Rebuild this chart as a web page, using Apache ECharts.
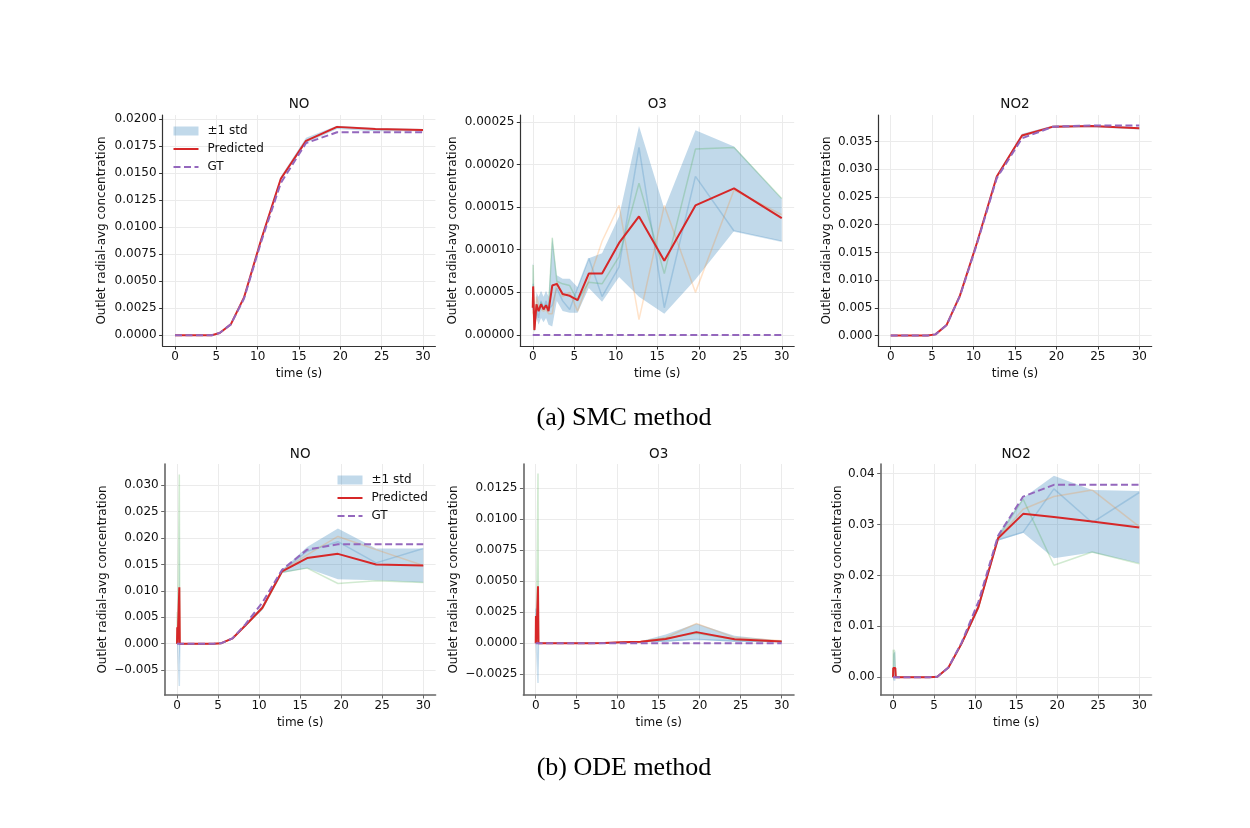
<!DOCTYPE html>
<html><head><meta charset="utf-8">
<script src="https://cdn.jsdelivr.net/npm/echarts@6/dist/echarts.min.js"></script>
<style>html,body{margin:0;padding:0;background:#fff}#c{width:1250px;height:828px}</style>
</head><body><div id="c"></div>
<script>
// ---------- data ----------
const xTicks = [0, 5, 10, 15, 20, 25, 30];

const tSMC = [0, 0.05, 0.2, 0.45, 0.7, 1.0, 1.3, 1.6, 1.9, 2.35, 2.9, 3.6, 4.45, 5.4, 6.75, 8.35, 10.4, 12.8, 15.85, 19.6, 24.25, 30];
const tODE = [0, 0.03, 0.07, 0.16, 0.22, 0.28, 0.34, 0.45, 0.7, 1.0, 1.3, 1.6, 1.9, 2.35, 2.9, 3.6, 4.45, 5.4, 6.75, 8.35, 10.4, 12.8, 15.85, 19.6, 24.25, 30];

// SMC NO
const smcNoPred = [0,0,0,0,0,0,0,0,0,0,0,0,0, 0.0002, 0.001, 0.0035, 0.0088, 0.0145, 0.018, 0.0193, 0.0191, 0.019];
const smcNoGT   = [0,0,0,0,0,0,0,0,0,0,0,0,0, 0.0002, 0.001, 0.0034, 0.0086, 0.0141, 0.0178, 0.0188, 0.0188, 0.0188];
const smcNoLo   = [0,0,0,0,0,0,0,0,0,0,0,0,0, 0.0002, 0.00095, 0.0034, 0.0086, 0.0143, 0.0178, 0.0191, 0.0189, 0.0189];
const smcNoHi   = [0,0,0,0,0,0,0,0,0,0,0,0,0, 0.0002, 0.00105, 0.0036, 0.009, 0.0147, 0.0183, 0.0194, 0.0192, 0.0191];

// SMC O3
const smcO3Pred = [0.000032, 0.000057, 0.000006, 0.000036, 0.000028, 0.000036, 0.00003, 0.000035, 0.000028, 0.000058, 0.00006, 0.000048, 0.000046, 0.000041, 0.000072, 0.000072, 0.000108, 0.000139, 0.000087, 0.000152, 0.000172, 0.000137];
const smcO3GT   = [0,0,0,0,0,0,0,0,0,0,0,0,0,0,0,0,0,0,0,0,0,0];
const smcO3Lo   = [0.00002, 0.00003, 0.000003, 0.00002, 0.000012, 0.00002, 0.000015, 0.00002, 0.000012, 0.00001, 0.00004, 0.000028, 0.000026, 0.000026, 0.000055, 0.000039, 0.000068, 0.000045, 0.000025, 0.000065, 0.000122, 0.00011];
const smcO3Hi   = [0.000083, 0.000084, 0.00001, 0.00005, 0.000045, 0.000052, 0.000045, 0.000052, 0.000045, 0.000115, 0.00007, 0.000066, 0.000066, 0.000056, 0.00009, 0.000096, 0.000139, 0.000245, 0.000148, 0.00024, 0.000221, 0.00016];
const smcO3SampleBlue   = [0.00003, 0.00006, 0.000005, 0.00003, 0.00002, 0.00004, 0.00003, 0.00004, 0.00003, 0.000035, 0.000055, 0.00004, 0.00003, 0.000055, 0.00009, 0.000045, 0.00008, 0.00022, 0.000032, 0.000186, 0.000122, 0.00011];
const smcO3SampleOrange = [0.000025, 0.00003, 0.000005, 0.000045, 0.000035, 0.00003, 0.000028, 0.00003, 0.000025, 0.000025, 0.000062, 0.000045, 0.00005, 0.000028, 0.000064, 0.00011, 0.000152, 0.000018, 0.000152, 0.00005, 0.00017, 0.000141];
const smcO3SampleGreen  = [0.00004, 0.000082, 0.000008, 0.000033, 0.00003, 0.000038, 0.000032, 0.000035, 0.00003, 0.000114, 0.000063, 0.00006, 0.000058, 0.00004, 0.000062, 0.00006, 0.000092, 0.000178, 0.000072, 0.000218, 0.00022, 0.00016];

// SMC NO2
const smcNo2Pred = [0,0,0,0,0,0,0,0,0,0,0,0,0, 0.0002, 0.0019, 0.0072, 0.0167, 0.0287, 0.0361, 0.0377, 0.0378, 0.0374];
const smcNo2GT   = [0,0,0,0,0,0,0,0,0,0,0,0,0, 0.0002, 0.0019, 0.0071, 0.0165, 0.0284, 0.0356, 0.0377, 0.0379, 0.0379];
const smcNo2Lo   = [0,0,0,0,0,0,0,0,0,0,0,0,0, 0.0002, 0.0018, 0.007, 0.0164, 0.0284, 0.0358, 0.0375, 0.0376, 0.0372];
const smcNo2Hi   = [0,0,0,0,0,0,0,0,0,0,0,0,0, 0.0002, 0.002, 0.0074, 0.017, 0.029, 0.0364, 0.0379, 0.038, 0.0376];

// ODE NO
const odeNoPred = [0, 0.0031, 0, 0, 0, 0.0107, 0, 0,0,0,0,0,0,0,0,0,0, 0.0001, 0.001, 0.0035, 0.0068, 0.0137, 0.0162, 0.017, 0.015, 0.0148];
const odeNoGT   = [0, 0, 0, 0, 0, 0, 0, 0,0,0,0,0,0,0,0,0,0, 0.0001, 0.001, 0.0037, 0.0078, 0.014, 0.0178, 0.0188, 0.0188, 0.0188];
const odeNoLo   = [0, 0.0005, 0, 0, 0, -0.004, 0, 0,0,0,0,0,0,0,0,0,0, 0.0001, 0.0009, 0.0033, 0.0064, 0.0134, 0.0143, 0.0122, 0.012, 0.0116];
const odeNoHi   = [0, 0.0057, 0, 0, 0, 0.0254, 0, 0,0,0,0,0,0,0,0,0,0, 0.0001, 0.0011, 0.0037, 0.0072, 0.014, 0.0183, 0.0218, 0.018, 0.018];
const odeNoSampleBlue   = [0, 0.0015, 0, 0, 0, -0.008, 0, 0,0,0,0,0,0,0,0,0,0, 0.0001, 0.001, 0.0036, 0.007, 0.0138, 0.0175, 0.0193, 0.0153, 0.018];
const odeNoSampleOrange = [0, 0.0018, 0, 0, 0, 0.0081, 0, 0,0,0,0,0,0,0,0,0,0, 0.0001, 0.001, 0.0035, 0.0068, 0.0138, 0.0168, 0.0203, 0.0178, 0.0148];
const odeNoSampleGreen  = [0, 0.006, 0, 0, 0, 0.032, 0, 0,0,0,0,0,0,0,0,0,0, 0.0001, 0.001, 0.0034, 0.0066, 0.0135, 0.0143, 0.0114, 0.0119, 0.0116];

// ODE O3
const odeO3Pred = [0, 0.0022, 0, 0, 0, 0.0046, 0, 0,0,0,0,0,0,0,0,0,0, 0, 0, 0.00002, 0.00008, 0.00012, 0.00035, 0.0009, 0.00032, 0.00015];
const odeO3GT   = [0,0,0,0,0,0,0,0,0,0,0,0,0,0,0,0,0,0,0,0,0,0,0,0,0,0];
const odeO3Lo   = [0, 0.0008, 0, 0, 0, -0.0022, 0, 0,0,0,0,0,0,0,0,0,0, 0, 0, 0.00001, 0.00005, 0.00008, 0.0001, 0.0003, 0.0001, 0.0001];
const odeO3Hi   = [0, 0.0036, 0, 0, 0, 0.0065, 0, 0,0,0,0,0,0,0,0,0,0, 0, 0, 0.00003, 0.00011, 0.00016, 0.0007, 0.0016, 0.0006, 0.0002];
const odeO3SampleBlue   = [0, 0.0028, 0, 0, 0, -0.0032, 0, 0,0,0,0,0,0,0,0,0,0, 0, 0, 0.00002, 0.00007, 0.0001, 0.0002, 0.0003, 0.0002, 0.0001];
const odeO3SampleOrange = [0, 0.002, 0, 0, 0, 0.0033, 0, 0,0,0,0,0,0,0,0,0,0, 0, 0, 0.00002, 0.00009, 0.00014, 0.00045, 0.0016, 0.00046, 0.0002];
const odeO3SampleGreen  = [0, 0.0018, 0, 0, 0, 0.0137, 0, 0,0,0,0,0,0,0,0,0,0, 0, 0, 0.00002, 0.00008, 0.00012, 0.0004, 0.0008, 0.0003, 0.00015];

// ODE NO2
const odeNo2Pred = [0, 0.0018, 0.0015, 0.0018, 0.0017, 0.0018, 0, 0,0,0,0,0,0,0,0,0,0, 0.0001, 0.0019, 0.0066, 0.0138, 0.0273, 0.0321, 0.0315, 0.0306, 0.0294];
const odeNo2GT   = [0, 0, 0, 0, 0, 0, 0, 0,0,0,0,0,0,0,0,0,0, 0.0001, 0.0019, 0.0068, 0.0148, 0.0278, 0.0355, 0.0378, 0.0378, 0.0378];
const odeNo2Lo   = [0, -0.0007, -0.0006, -0.0007, -0.0007, -0.0007, 0, 0,0,0,0,0,0,0,0,0,0, 0.0001, 0.0018, 0.0063, 0.0132, 0.0268, 0.0284, 0.0234, 0.0245, 0.0224];
const odeNo2Hi   = [0, 0.0054, 0.0045, 0.005, 0.0048, 0.0052, 0, 0,0,0,0,0,0,0,0,0,0, 0.0001, 0.002, 0.007, 0.0144, 0.0282, 0.0352, 0.0396, 0.0368, 0.0366];
const odeNo2SampleBlue   = [0, 0, 0, 0, 0, 0, 0, 0,0,0,0,0,0,0,0,0,0, 0.0001, 0.0019, 0.0066, 0.014, 0.027, 0.0285, 0.037, 0.0304, 0.0363];
const odeNo2SampleOrange = [0, 0, 0, 0, 0, 0, 0, 0,0,0,0,0,0,0,0,0,0, 0.0001, 0.0019, 0.0066, 0.0138, 0.0274, 0.033, 0.0355, 0.0368, 0.0296];
const odeNo2SampleGreen  = [0, 0.0054, 0.0045, 0.0054, 0.0051, 0.0054, 0, 0,0,0,0,0,0,0,0,0,0, 0.0001, 0.0019, 0.0066, 0.0136, 0.0275, 0.035, 0.022, 0.0246, 0.0223];

// tick labels
const yTicksSmcNo  = [0, 0.0025, 0.005, 0.0075, 0.01, 0.0125, 0.015, 0.0175, 0.02];
const yTicksSmcO3  = [0, 0.00005, 0.0001, 0.00015, 0.0002, 0.00025];
const yTicksSmcNo2 = [0, 0.005, 0.01, 0.015, 0.02, 0.025, 0.03, 0.035];
const yTicksOdeNo  = [-0.005, 0, 0.005, 0.01, 0.015, 0.02, 0.025, 0.03];
const yTicksOdeO3  = [-0.0025, 0, 0.0025, 0.005, 0.0075, 0.01, 0.0125];
const yTicksOdeNo2 = [0, 0.01, 0.02, 0.03, 0.04];

const panelTitles = ['NO', 'O3', 'NO2', 'NO', 'O3', 'NO2'];
const captions = ['(a) SMC method', '(b) ODE method'];
const legendNames = ['\u00b11 std', 'Predicted', 'GT'];
const yName = 'Outlet radial-avg concentration';
const xName = 'time (s)';

// ---------- style / layout ----------
const RED = '#d62728', PURPLE = '#9467bd', BAND = 'rgba(31,119,180,0.28)';
const SAMPLE_COLORS = ['#1f77b4', '#ff7f0e', '#2ca02c'];
const FONT = 'DejaVu Sans';

const panels = [
  {t: tSMC, pred: smcNoPred, gt: smcNoGT, lo: smcNoLo, hi: smcNoHi, samples: null,
   grid: {left: 162.6, top: 115, width: 272.8, height: 231}, x: [-1.5, 31.5], y: [-0.001, 0.0204],
   yTicks: yTicksSmcNo, dec: 4, nameGap: 55, spine: '#333', spineW: 1.2, titleY: 104},
  {t: tSMC, pred: smcO3Pred, gt: smcO3GT, lo: smcO3Lo, hi: smcO3Hi,
   samples: [smcO3SampleBlue, smcO3SampleOrange, smcO3SampleGreen],
   grid: {left: 520.3, top: 115, width: 273.9, height: 231}, x: [-1.5, 31.5], y: [-0.0000129, 0.000258],
   yTicks: yTicksSmcO3, dec: 5, nameGap: 61, spine: '#333', spineW: 1.2, titleY: 104},
  {t: tSMC, pred: smcNo2Pred, gt: smcNo2GT, lo: smcNo2Lo, hi: smcNo2Hi, samples: null,
   grid: {left: 878.3, top: 115, width: 273.4, height: 231}, x: [-1.5, 31.5], y: [-0.0019, 0.0398],
   yTicks: yTicksSmcNo2, dec: 3, nameGap: 45, spine: '#333', spineW: 1.2, titleY: 104},
  {t: tODE, pred: odeNoPred, gt: odeNoGT, lo: odeNoLo, hi: odeNoHi,
   samples: [odeNoSampleBlue, odeNoSampleOrange, odeNoSampleGreen],
   grid: {left: 164.7, top: 464, width: 270.9, height: 231}, x: [-1.5, 31.5], y: [-0.0097, 0.034],
   yTicks: yTicksOdeNo, dec: 3, nameGap: 56, spine: '#666', spineW: 1.6, titleY: 454},
  {t: tODE, pred: odeO3Pred, gt: odeO3GT, lo: odeO3Lo, hi: odeO3Hi,
   samples: [odeO3SampleBlue, odeO3SampleOrange, odeO3SampleGreen],
   grid: {left: 523.4, top: 464, width: 270.6, height: 231}, x: [-1.5, 31.5], y: [-0.00417, 0.01446],
   yTicks: yTicksOdeO3, dec: 4, nameGap: 64, spine: '#666', spineW: 1.6, titleY: 454},
  {t: tODE, pred: odeNo2Pred, gt: odeNo2GT, lo: odeNo2Lo, hi: odeNo2Hi,
   samples: [odeNo2SampleBlue, odeNo2SampleOrange, odeNo2SampleGreen],
   grid: {left: 880.7, top: 464, width: 270.9, height: 231}, x: [-1.5, 31.5], y: [-0.0035, 0.0419],
   yTicks: yTicksOdeNo2, dec: 2, nameGap: 37, spine: '#666', spineW: 1.6, titleY: 454}
];

const pairs = (t, v) => t.map((x, i) => [x, v[i]]);
const fmt = (dec) => (v) => {
  const s = Math.abs(v) < 1e-12 ? (0).toFixed(dec) : v.toFixed(dec);
  return s.replace('-', '\u2212');
};

const grids = [], xAxes = [], yAxes = [], series = [], graphics = [];
panels.forEach((p, i) => {
  grids.push(Object.assign({containLabel: false}, p.grid));
  const axisCommon = {
    axisLine: {show: true, onZero: false, lineStyle: {color: p.spine, width: p.spineW}},
    axisTick: {show: true, length: 3.5, lineStyle: {color: p.spine, width: 1}},
    splitLine: {show: true, lineStyle: {color: '#ebebeb', width: 1}},
    nameTextStyle: {fontFamily: FONT, fontSize: 12, color: '#111'}
  };
  xAxes.push(Object.assign({}, axisCommon, {
    type: 'value', gridIndex: i, min: p.x[0], max: p.x[1],
    axisTick: Object.assign({}, axisCommon.axisTick, {customValues: xTicks}),
    axisLabel: {customValues: xTicks, margin: 5, fontFamily: FONT, fontSize: 12, color: '#111'},
    name: xName, nameLocation: 'middle', nameGap: 22
  }));
  yAxes.push(Object.assign({}, axisCommon, {
    type: 'value', gridIndex: i, min: p.y[0], max: p.y[1],
    axisTick: Object.assign({}, axisCommon.axisTick, {customValues: p.yTicks}),
    axisLabel: {customValues: p.yTicks, margin: 6, fontFamily: FONT, fontSize: 12, color: '#111', formatter: fmt(p.dec)},
    name: yName, nameLocation: 'middle', nameGap: p.nameGap
  }));
  // std band
  series.push({
    type: 'custom', name: legendNames[0], xAxisIndex: i, yAxisIndex: i, z: 1, silent: true,
    itemStyle: {color: BAND},
    data: [[p.t[0], p.lo[0]]],
    renderItem: (params, api) => {
      const pts = [];
      for (let k = 0; k < p.t.length; k++) pts.push(api.coord([p.t[k], p.hi[k]]));
      for (let k = p.t.length - 1; k >= 0; k--) pts.push(api.coord([p.t[k], p.lo[k]]));
      return {type: 'polygon', shape: {points: pts}, style: {fill: BAND, stroke: null}};
    }
  });
  if (p.samples) {
    p.samples.forEach((s, j) => {
      series.push({
        type: 'line', name: 'sample' + i + '_' + j, xAxisIndex: i, yAxisIndex: i, z: 2,
        data: pairs(p.t, s), symbol: 'none', silent: true,
        lineStyle: {color: SAMPLE_COLORS[j], width: 1.5, opacity: 0.22}
      });
    });
  }
  series.push({
    type: 'line', name: legendNames[1], xAxisIndex: i, yAxisIndex: i, z: 3,
    data: pairs(p.t, p.pred), symbol: 'none', itemStyle: {color: RED},
    lineStyle: {color: RED, width: 2}
  });
  series.push({
    type: 'line', name: legendNames[2], xAxisIndex: i, yAxisIndex: i, z: 4,
    data: pairs(p.t, p.gt), symbol: 'none', itemStyle: {color: PURPLE},
    lineStyle: {color: PURPLE, width: 2, type: [7, 3.5]}
  });
  graphics.push({
    type: 'text', x: p.grid.left + p.grid.width / 2, y: p.titleY, silent: true,
    style: {text: panelTitles[i], fontFamily: FONT, fontSize: 13.5, fill: '#111', align: 'center', verticalAlign: 'middle'}
  });
});
graphics.push({type: 'text', x: 624, y: 418, silent: true,
  style: {text: captions[0], fontFamily: 'Liberation Serif', fontSize: 26, fill: '#000', align: 'center', verticalAlign: 'middle'}});
graphics.push({type: 'text', x: 624, y: 768, silent: true,
  style: {text: captions[1], fontFamily: 'Liberation Serif', fontSize: 26, fill: '#000', align: 'center', verticalAlign: 'middle'}});

const legendData = [
  {name: legendNames[0], icon: 'rect', itemStyle: {color: BAND}},
  {name: legendNames[1], itemStyle: {opacity: 0}},
  {name: legendNames[2], itemStyle: {opacity: 0}}
];
const legendCommon = {
  orient: 'vertical', itemWidth: 25, itemHeight: 9, itemGap: 6, padding: 0,
  selectedMode: false, data: legendData,
  textStyle: {fontFamily: FONT, fontSize: 12, color: '#111', padding: [0, 0, 0, 4]}
};

const chart = echarts.init(document.getElementById('c'), null, {renderer: 'canvas'});
chart.setOption({
  animation: false,
  backgroundColor: '#fff',
  grid: grids, xAxis: xAxes, yAxis: yAxes, series: series,
  legend: [
    Object.assign({left: 172.5, top: 125}, legendCommon),
    Object.assign({left: 336.5, top: 474}, legendCommon)
  ],
  graphic: graphics
});
</script></body></html>
